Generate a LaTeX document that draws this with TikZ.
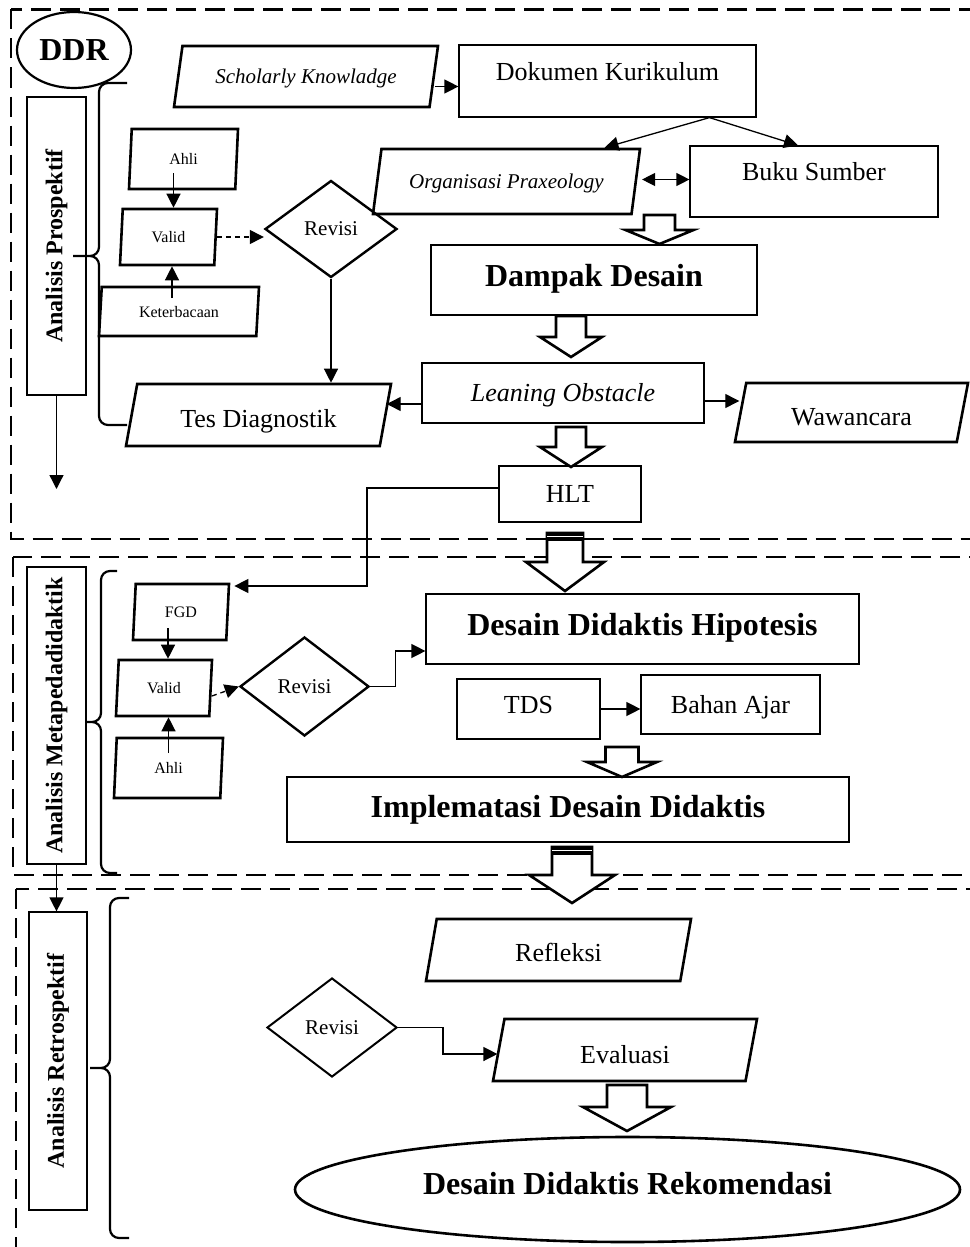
\documentclass[tikz,border=0pt]{standalone}
\usepackage{fontspec}
\setmainfont{Liberation Serif}
\usetikzlibrary{arrows.meta}
\usetikzlibrary{shapes.geometric}
\usetikzlibrary{calc}

\tikzset{
  sec/.style={dash pattern=on 20pt off 9pt, line width=2.8pt},
  brc/.style={line width=2.2pt, rounded corners=9pt},
  box/.style={draw, rectangle, line width=1.2pt, inner sep=0pt,
    font=\fontsize{26}{30}\selectfont, text height=27pt, text depth=10pt},
  bigbox/.style={box, font=\bfseries\fontsize{32}{36}\selectfont,
    text height=31pt, text depth=10pt},
  para/.style={draw, trapezium, trapezium left angle=76, trapezium right angle=104,
    trapezium stretches body, line width=2.6pt, inner sep=0pt,
    font=\fontsize{26}{30}\selectfont, text height=27pt, text depth=10pt},
  smallpara/.style={para, font=\fontsize{16}{19}\selectfont, text height=11pt, text depth=0pt},
  ital/.style={font=\itshape\fontsize{21}{24}\selectfont, text height=24pt, text depth=10pt},
  dia/.style={draw, diamond, line width=2.4pt, inner sep=0pt, font=\fontsize{21}{24}\selectfont},
  lab/.style={draw, rectangle, line width=1.2pt, rotate=90, inner sep=0pt,
    font=\bfseries\fontsize{24}{28}\selectfont},
  arr/.style={-{Triangle[length=14pt,width=14pt]}, line width=1.3pt},
  dbl/.style={{Triangle[length=13pt,width=13pt]}-{Triangle[length=13pt,width=13pt]}, line width=1.3pt},
  dsh/.style={arr, dash pattern=on 5pt off 4pt},
  fat/.style={draw, fill=white, line width=2.6pt, line join=miter}
}

% hollow block arrow: x, top, half shaft, half head, head base, tip
\newcommand{\fatarrow}[6]{%
  \draw[fat] (#1-#3,#2) -- (#1-#3,#5) -- (#1-#4,#5) -- (#1,#6)
    -- (#1+#4,#5) -- (#1+#3,#5) -- (#1+#3,#2) -- cycle;}
% double bar on top of a block arrow
\newcommand{\fattop}[3]{%
  \fill (#1-#3-1.3,#2-1.3) rectangle (#1+#3+1.3,#2+8);
  \draw[white, line width=0.8pt] (#1-#3,#2+3.8) -- (#1+#3,#2+3.8);}

\begin{document}
\begin{tikzpicture}[x=1pt,y=-1pt]
	\useasboundingbox (0,0) rectangle (969,1247);

	% the three stages
	\draw[sec] (11,9.5) rectangle (995,539);
	\draw[sec] (13,557) rectangle (995,875);
	\draw[sec] (16,889) rectangle (995,1265);

	\draw[brc] (127,83) -- (99,83) -- (99,256) -- (73,256)
		(73,256) -- (99,256) -- (99,425) -- (127,425);
	\draw[brc] (117,571) -- (101,571) -- (101,722) -- (86,722)
		(86,722) -- (101,722) -- (101,873) -- (117,873);
	\draw[brc] (129,898) -- (110,898) -- (110,1068) -- (90,1068)
		(90,1068) -- (110,1068) -- (110,1238) -- (129,1238);

	\node[lab, minimum width=298pt, minimum height=59pt] (ap) at (56.5,246) {Analisis Prospektif};
	\node[lab, minimum width=297pt, minimum height=59pt] (am) at (56.5,715.5) {Analisis Metapedadidaktik};
	\node[lab, minimum width=298pt, minimum height=58pt] (ar) at (58,1061) {Analisis Retrospektif};

	\node[draw, ellipse, line width=2.2pt, inner sep=0pt, minimum width=114pt, minimum height=76pt,
		font=\bfseries\fontsize{32}{36}\selectfont] (ddr) at (74,50) {DDR};

	% prospektif
	\node[para, ital, minimum width=264pt, minimum height=61pt] (sk) at (306,76.5) {Scholarly Knowladge};
	\node[box, minimum width=297pt, minimum height=72pt, text depth=28pt] (dk) at (607.5,81) {Dokumen Kurikulum};
	\node[para, ital, minimum width=267pt, minimum height=65pt] (op) at (506.5,181.5) {Organisasi Praxeology};
	\node[box, minimum width=248pt, minimum height=71pt, text depth=29pt] (bs) at (814,181.5) {Buku Sumber};
	\node[bigbox, minimum width=326pt, minimum height=70pt, text depth=19pt] (dd) at (594,280) {Dampak Desain};
	\node[box, font=\itshape\fontsize{26}{30}\selectfont, minimum width=282pt, minimum height=60pt] (lo) at (563,393) {Leaning Obstacle};
	\node[para, minimum width=233pt, minimum height=59pt, text height=35pt] (wa) at (851.5,412.5) {Wawancara};
	\node[para, minimum width=265pt, minimum height=62pt, text height=35pt] (td) at (258.5,415) {Tes Diagnostik};
	\node[dia, minimum width=132pt, minimum height=97pt] (rv1) at (331,229) {Revisi};
	\node[smallpara, minimum width=109pt, minimum height=60pt] (ah1) at (183.5,159) {Ahli};
	\node[smallpara, minimum width=97pt, minimum height=56pt] (va1) at (168.5,237) {Valid};
	\node[smallpara, minimum width=160pt, minimum height=49pt] (kb) at (179,311.5) {Keterbacaan};
	\node[box, minimum width=142pt, minimum height=56pt] (hlt) at (570,494) {HLT};
	\coordinate (pend) at (56.5,489);
	\coordinate (hbend) at (367,586);

	% metapedadidaktik
	\node[smallpara, minimum width=96pt, minimum height=56pt] (fgd) at (181,612) {FGD};
	\node[smallpara, minimum width=96pt, minimum height=56pt] (va2) at (164,688) {Valid};
	\node[smallpara, minimum width=109pt, minimum height=60pt] (ah2) at (168.5,768) {Ahli};
	\node[dia, minimum width=129pt, minimum height=99pt] (rv2) at (304.5,686.5) {Revisi};
	\node[bigbox, minimum width=433pt, minimum height=70pt, text depth=18pt] (ddh) at (642.5,629) {Desain Didaktis Hipotesis};
	\node[box, minimum width=143pt, minimum height=60pt, text depth=18pt] (tds) at (528.5,709) {TDS};
	\node[box, minimum width=179pt, minimum height=59pt] (ba) at (730.5,704.5) {Bahan Ajar};
	\node[bigbox, line width=2.8pt, minimum width=562pt, minimum height=65pt, text depth=15pt] (idd) at (568,809.5) {Implematasi Desain Didaktis};

	% retrospektif
	\node[para, minimum width=265pt, minimum height=62pt, text height=33pt] (rf) at (558.5,950) {Refleksi};
	\node[dia, line width=2pt, minimum width=130pt, minimum height=99pt] (rv3) at (332,1027.5) {Revisi};
	\node[para, minimum width=264pt, minimum height=62pt, text height=36pt] (ev) at (625,1050) {Evaluasi};
	\node[draw, ellipse, line width=2.6pt, inner sep=0pt, minimum width=665pt, minimum height=105pt,
		font=\bfseries\fontsize{32}{36}\selectfont, text height=31pt, text depth=21pt] (rek) at (627.5,1189.5) {Desain Didaktis Rekomendasi};

	% connectors
	\draw[arr] ([yshift=-10pt]sk.east) -- ([yshift=-10pt]sk.east -| dk.west);
	\draw[arr] ([xshift=102pt]dk.south) -- ([xshift=98pt]op.north);
	\draw[arr] ([xshift=102pt]dk.south) -- ([xshift=-16pt]bs.north);
	\draw[dbl] ([xshift=5pt,yshift=2pt]op.east) -- ([yshift=2pt]op.east -| bs.west);
	\draw[arr] (rv1.south) -- (rv1.south |- td.north);
	\draw[arr] ([yshift=-11pt]lo.west) -- ([yshift=-11pt]lo.west -| td.east);
	\draw[arr] ([yshift=-8pt]lo.east) -- ([yshift=-8pt]lo.east -| wa.west);
	\draw[arr] ([xshift=-10pt,yshift=-14pt]ah1.center) -- ([xshift=-10pt]ah1.center |- va1.north);
	\draw[arr] ([xshift=-7pt,yshift=13.5pt]kb.center) -- ([xshift=-7pt]kb.center |- va1.south);
	\draw[dsh] (va1.east) -- (va1.east -| rv1.west);
	\draw[arr] (ap.west) -- (ap.west |- pend);
	\draw[arr] ([yshift=6pt]hlt.west) -| (hbend) -- ([xshift=4pt]hbend -| fgd.top right corner);
	\draw[arr] ([xshift=-13pt,yshift=-16pt]fgd.center) -- ([xshift=-13pt]fgd.center |- va2.north);
	\draw[arr] ([yshift=15pt]ah2.center) -- (ah2.center |- va2.south);
	\draw[dsh] ([yshift=-8pt]va2.east) -- (rv2.west);
	\draw[arr] (rv2.east) -- ++(25,0) |- ([yshift=-22pt]ddh.west);
	\draw[arr] (tds.east) -- (tds.east -| ba.west);
	\draw[arr] (am.west) -- (am.west |- ar.east);
	\draw[arr] (rv3.east) -- ++(45,0) |- ([yshift=-4pt]ev.west);

	% block arrows
	\fatarrow{659.5}{215}{15.5}{34}{230}{244}
	\fatarrow{571}{316}{15}{31}{337}{357}
	\fatarrow{571}{427}{15}{31}{447}{467}
	\fatarrow{565}{533}{18}{39}{562}{591}
	\fattop{565}{533}{18}
	\fatarrow{622}{747}{16.5}{35}{762}{777}
	\fatarrow{572}{847}{20}{43}{875}{903}
	\fattop{572}{847}{20}
	\fatarrow{627}{1085}{20}{44}{1107}{1131}

\end{tikzpicture}
\end{document}
